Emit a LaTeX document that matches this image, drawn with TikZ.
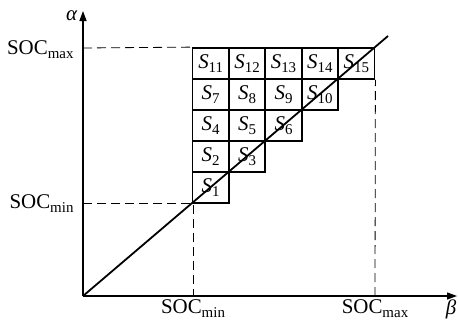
\documentclass[tikz,border=0pt]{standalone}
\usepackage{fontspec}
\setmainfont{Liberation Serif}
\usetikzlibrary{arrows.meta}
\newcommand\lo[1]{\raisebox{-0.2em}{\fontsize{15}{15}\selectfont#1}}

\begin{document}
\begin{tikzpicture}[x=1bp,y=1bp,every node/.style={font=\fontsize{21}{24}\selectfont},axis/.style={line width=1.3bp,-{Triangle[length=10bp,width=7bp]}},guide/.style={dash pattern=on 9bp off 5bp,line width=0.8bp},cell/.style={draw,line width=1.8bp,minimum width=36.4bp,minimum height=31bp,inner sep=0pt},diag/.style={line width=1.8bp}]
\useasboundingbox (0,0) rectangle (458,322);
\coordinate (O) at (83,26);\coordinate (xend) at (457,26);\coordinate (yend) at (83,311);
\coordinate (bmin) at (193,26);\coordinate (bmax) at (375,26);\coordinate (amin) at (83,119);\coordinate (amax) at (83,274);
\coordinate (cmin) at (193,119);\coordinate (dtop) at (388,286);

% staircase of cells S1..S15
\foreach \r in {1,...,5}{\foreach \c in {1,...,\r}{\pgfmathtruncatemacro\n{\r*(\r-1)/2+\c}
  \node[cell] (s\n) at ({192.5+(\c-0.5)*36.4},{119+(\r-0.5)*31}) {\textit{S}\lo{\n}};}}

\draw[guide] (amin)--(cmin)--(bmin);\draw[guide] (amax)--(s11.north west);\draw[guide] (bmax)--(s15.south east);
\draw[axis] (O)--(xend);\draw[axis] (O)--(yend);
\draw[diag] (O)--(dtop);

\node[anchor=base east] (lmax) at (77,268) {SOC\lo{max}};\node[anchor=base east] (lmin) at (77,114) {SOC\lo{min}};
\node[anchor=base] (tmin) at (193,8.5) {SOC\lo{min}};\node[anchor=base] (tmax) at (375,8.5) {SOC\lo{max}};
\node[anchor=base east] (alpha) at (81,302) {\textit{α}};\node[anchor=base] (beta) at (451,8) {\textit{β}};
\end{tikzpicture}
\end{document}
